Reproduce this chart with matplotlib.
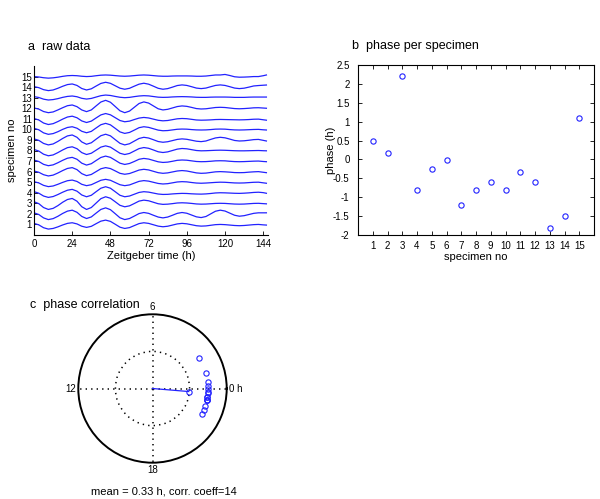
import numpy as np
import matplotlib
matplotlib.use('Agg')
import matplotlib.pyplot as plt

plt.rcParams['font.family'] = ['Liberation Sans', 'DejaVu Sans']

# ---------------- data ----------------
hours = list(range(0, 145, 3)) + [146]
specimens = list(range(1, 16))

trace_01 = [.10,-.04,-.31,-.44,-.38,-.23,-.05,.10,.16,.05,-.17,-.28,-.18,.07,.31,.41,.29,.02,-.26,-.38,-.30,-.11,.08,.16,.10,-.03,-.16,-.22,-.17,-.06,.05,.10,.06,-.03,-.12,-.16,-.14,-.08,-.02,0,-.02,-.06,-.10,-.12,-.10,-.06,-.02,0,-.04,-.06]
trace_02 = [.10,-.06,-.38,-.54,-.45,-.23,.04,.26,.35,.15,-.24,-.44,-.29,.07,.42,.57,.40,.02,-.37,-.54,-.44,-.21,.03,.13,.05,-.13,-.30,-.38,-.30,-.13,.05,.13,.06,-.11,-.28,-.35,-.25,0,.25,.35,.27,.07,-.13,-.22,-.17,-.06,.05,.10,.10,.10]
trace_03 = [.15,-.03,-.40,-.58,-.48,-.22,.10,.36,.46,.20,-.32,-.58,-.40,.02,.44,.62,.48,.15,-.19,-.33,-.24,-.02,.21,.30,.24,.10,-.04,-.10,-.08,-.03,.03,.05,.03,-.01,-.06,-.08,-.07,-.04,-.01,0,-.01,-.04,-.07,-.08,-.07,-.04,-.01,0,-.03,-.05]
trace_04 = [.10,-.04,-.31,-.44,-.36,-.17,.05,.24,.32,.15,-.21,-.38,-.24,.10,.43,.57,.43,.10,-.24,-.38,-.31,-.14,.03,.10,.06,-.03,-.12,-.16,-.15,-.11,-.08,-.06,-.07,-.10,-.12,-.13,-.11,-.07,-.02,0,-.01,-.03,-.05,-.06,-.04,-.01,.03,.05,.01,-.05]
trace_05 = [.05,-.07,-.30,-.42,-.36,-.20,-.02,.14,.20,.07,-.20,-.33,-.24,-.03,.18,.27,.18,-.03,-.24,-.33,-.26,-.09,.08,.15,.10,-.01,-.12,-.17,-.14,-.06,.02,.05,.03,-.03,-.08,-.10,-.08,-.05,-.02,0,-.01,-.04,-.07,-.08,-.07,-.04,-.01,0,-.06,-.10]
trace_06 = [.06,-.06,-.29,-.41,-.33,-.13,.10,.30,.38,.19,-.19,-.38,-.27,0,.27,.38,.29,.07,-.16,-.25,-.18,-.02,.15,.22,.16,.03,-.10,-.16,-.12,-.03,.06,.10,.06,-.03,-.12,-.16,-.14,-.08,-.02,0,-.02,-.05,-.09,-.10,-.09,-.05,-.02,0,-.06,-.10]
trace_07 = [.10,-.04,-.31,-.44,-.36,-.16,.07,.27,.35,.17,-.20,-.38,-.25,.05,.34,.47,.35,.08,-.20,-.32,-.23,-.04,.17,.25,.19,.06,-.07,-.13,-.10,-.02,.07,.10,.08,.02,-.04,-.06,-.05,-.02,.02,.03,.02,-.02,-.05,-.06,-.05,-.03,-.01,0,-.04,-.06]
trace_08 = [.10,-.05,-.35,-.50,-.42,-.20,.05,.27,.35,.17,-.20,-.38,-.26,.03,.32,.44,.32,.03,-.26,-.38,-.28,-.05,.18,.28,.21,.05,-.12,-.19,-.13,0,.13,.19,.16,.08,0,-.03,-.02,0,.02,.03,.02,0,-.02,-.03,-.03,-.02,-.01,0,-.02,-.03]
trace_09 = [.10,-.04,-.33,-.47,-.38,-.14,.14,.38,.47,.25,-.19,-.41,-.27,.07,.40,.54,.39,.03,-.32,-.47,-.36,-.11,.14,.25,.18,.02,-.15,-.22,-.17,-.06,.05,.10,.06,-.03,-.12,-.16,-.10,.05,.19,.25,.20,.08,-.05,-.10,-.08,-.03,.03,.05,-.04,-.10]
trace_10 = [.10,-.04,-.33,-.47,-.40,-.22,0,.18,.25,.11,-.18,-.32,-.19,.13,.44,.57,.43,.10,-.24,-.38,-.29,-.07,.16,.25,.19,.06,-.07,-.13,-.11,-.05,.01,.03,.02,-.02,-.05,-.06,-.05,-.02,.02,.03,.02,-.02,-.05,-.06,-.05,-.03,-.01,0,-.04,-.06]
trace_11 = [.03,-.11,-.40,-.54,-.46,-.26,-.03,.17,.25,.10,-.20,-.35,-.22,.08,.37,.50,.38,.11,-.16,-.28,-.22,-.07,.07,.13,.08,-.03,-.14,-.19,-.16,-.08,0,.03,.01,-.05,-.11,-.13,-.12,-.10,-.07,-.06,-.07,-.08,-.09,-.10,-.09,-.07,-.04,-.03,-.09,-.13]
trace_12 = [.03,-.08,-.31,-.42,-.35,-.16,.05,.24,.31,.15,-.16,-.32,-.16,.22,.59,.75,.57,.17,-.24,-.42,-.27,.09,.45,.60,.49,.22,-.05,-.16,-.10,.03,.16,.22,.18,.08,-.03,-.07,-.05,.01,.07,.09,.07,.02,-.03,-.05,-.03,0,.04,.05,.02,0]
trace_13 = [.10,.02,-.14,-.22,-.18,-.09,.03,.12,.16,.09,-.06,-.13,-.07,.06,.19,.25,.21,.12,.04,0,.03,.10,.16,.19,.17,.11,.05,.03,.04,.07,.09,.10,.09,.07,.04,.03,.03,.05,.06,.06,.06,.05,.03,.03,.03,.05,.06,.06,.06,.06]
trace_14 = [.05,-.05,-.24,-.33,-.27,-.11,.08,.24,.30,.16,-.13,-.27,-.16,.10,.35,.46,.36,.13,-.10,-.20,-.11,.09,.28,.37,.28,.09,-.11,-.20,-.14,0,.15,.21,.16,.04,-.09,-.14,-.09,.04,.16,.21,.16,.04,-.09,-.14,-.10,0,.11,.15,.18,.20]
trace_15 = [0,-.04,-.11,-.15,-.12,-.06,.02,.08,.10,.08,.03,0,.02,.08,.13,.15,.13,.09,.05,.03,.05,.09,.13,.15,.13,.09,.05,.03,.03,.05,.06,.06,.06,.05,.03,.03,.05,.10,.15,.15,.20,.10,-.02,-.06,-.05,-.03,0,0,.08,.15]

traces = [trace_01, trace_02, trace_03, trace_04, trace_05, trace_06, trace_07,
          trace_08, trace_09, trace_10, trace_11, trace_12, trace_13, trace_14, trace_15]

phase_h = [0.48, 0.17, 2.21, -0.82, -0.25, -0.01, -1.20, -0.80, -0.61, -0.81,
           -0.33, -0.61, -1.81, -1.50, 1.10]
mean_phase_h = -0.32
mean_vector_len = 0.49
point_radius = 0.75

time_ticks = [0, 24, 48, 72, 96, 120, 144]
phase_ticks = [-2, -1.5, -1, -0.5, 0, 0.5, 1, 1.5, 2, 2.5]
phase_tick_labels = ['-2', '-1.5', '-1', '-0.5', '0', '0.5', '1', '1.5', '2', '2.5']
clock_hours = [0, 6, 12, 18]
clock_labels = ['0 h', '6', '12', '18']
summary_text = 'mean = 0.33 h, corr. coeff=14'

# ---------------- figure ----------------
W, H = 600, 499
fig = plt.figure(figsize=(W / 100, H / 100), dpi=100)

def rect(x0, y0, x1, y1):
    return [x0 / W, 1 - y1 / H, (x1 - x0) / W, (y1 - y0) / H]

TICK_FS = 7
LABEL_FS = 8
TITLE_FS = 9
blue = '#2222ff'

# panel a
axa = fig.add_axes(rect(34, 66, 268, 235))
for k, tr in zip(specimens, traces):
    axa.plot(hours, np.array(tr) + k, color=blue, lw=0.9)
axa.set_xlim(0, 147)
axa.set_ylim(0, 16)
axa.set_xticks(time_ticks)
axa.set_yticks(specimens)
axa.spines['top'].set_visible(False)
axa.spines['right'].set_visible(False)
axa.tick_params(direction='in', length=3, labelsize=TICK_FS, width=0.6)
axa.tick_params(axis='y', pad=1.5)
axa.tick_params(axis='x', pad=3)
for s in axa.spines.values():
    s.set_linewidth(0.8)
axa.set_xlabel('Zeitgeber time (h)', fontsize=LABEL_FS, labelpad=1)
axa.set_ylabel('specimen no', fontsize=LABEL_FS, labelpad=3)
fig.text(28 / W, 1 - 47 / H, 'a  raw data', fontsize=TITLE_FS, ha='left', va='center')

# panel b
axb = fig.add_axes(rect(358, 65, 594, 235))
axb.plot(specimens, phase_h, 'o', mfc='none', mec=blue, ms=3.8, mew=0.8)
axb.set_xlim(0, 16)
axb.set_ylim(-2, 2.5)
axb.set_xticks(specimens)
axb.set_yticks(phase_ticks)
axb.set_yticklabels(phase_tick_labels)
axb.tick_params(direction='in', length=3, labelsize=TICK_FS, width=0.6,
                top=True, right=True)
axb.tick_params(axis='y', pad=6)
axb.tick_params(axis='x', pad=4)
for s in axb.spines.values():
    s.set_linewidth(0.8)
axb.set_xlabel('specimen no', fontsize=LABEL_FS, labelpad=1)
axb.set_ylabel('phase (h)', fontsize=LABEL_FS, labelpad=-2)
fig.text(352 / W, 1 - 46 / H, 'b  phase per specimen', fontsize=TITLE_FS, ha='left', va='center')

# panel c (polar)
cx, cy, R = 152.5, 388.5, 74.2
axc = fig.add_axes(rect(cx - R, cy - R, cx + R, cy + R), projection='polar')
axc.set_ylim(0, 1)
axc.set_thetagrids([h * 15 for h in clock_hours], labels=[''] * 4)
axc.set_rgrids([0.5], labels=[''])
axc.grid(True, color='black', lw=1.1, linestyle=(0, (0.9, 2.7)))
axc.tick_params(length=0)
axc.spines['polar'].set_linewidth(1.4)
axc.spines['polar'].set_color('black')
theta = np.deg2rad(np.array(phase_h) * 15)
axc.plot(theta, np.full(len(phase_h), point_radius), 'o', mfc='none', mec=blue,
         ms=3.8, mew=0.8, clip_on=False)
mt = np.deg2rad(mean_phase_h * 15)
axc.plot([mt, mt], [0, mean_vector_len], color=blue, lw=0.9)
axc.plot([mt], [mean_vector_len], 'o', mfc='none', mec=blue, ms=3.8, mew=0.8)
align = {0: ('left', 'center'), 6: ('center', 'bottom'), 12: ('right', 'center'), 18: ('center', 'top')}
for h, lab in zip(clock_hours, clock_labels):
    ha, va = align[h]
    axc.text(np.deg2rad(h * 15), 1.03, lab, fontsize=TICK_FS, ha=ha, va=va,
             clip_on=False)
fig.text(30 / W, 1 - 305 / H, 'c  phase correlation', fontsize=TITLE_FS, ha='left', va='center')
fig.text(163.5 / W, 1 - 492 / H, summary_text, fontsize=LABEL_FS, ha='center', va='center')

fig.savefig('out.png', dpi=100)
